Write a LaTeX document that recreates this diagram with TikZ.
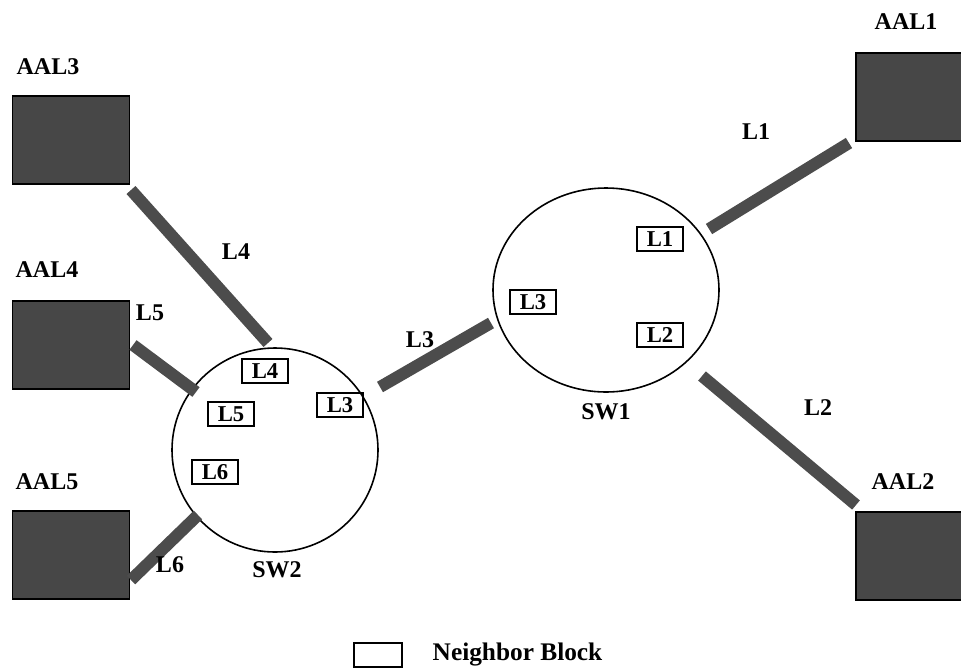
\documentclass[tikz,border=0pt]{standalone}
\usepackage{fontspec}
\setmainfont{Liberation Serif}
\usetikzlibrary{patterns}

\begin{document}
\begin{tikzpicture}[x=0.75pt, y=-0.75pt,
		aal/.style={draw=black, line width=1.2pt, fill=black!72, minimum width=88pt, minimum height=66pt, inner sep=0pt},
		link/.style={draw=black!70, line width=9pt},
		nb/.style={draw, line width=1.3pt, inner sep=0pt, minimum width=35pt, minimum height=18pt, font=\bfseries\fontsize{17}{17}\selectfont},
		lbl/.style={font=\bfseries\fontsize{18}{18}\selectfont}]
	\useasboundingbox (0,0) rectangle (961,669);
	% end systems
	\node[aal] (aal3) at (71,140) {};
	\node[aal] (aal4) at (71,345) {};
	\node[aal] (aal5) at (71,555) {};
	\node[aal, minimum width=90pt] (aal1) at (916,97) {};
	\node[aal, minimum width=90pt] (aal2) at (916,556) {};
	\node[lbl] at (48,67) {AAL3};
	\node[lbl] at (47,270) {AAL4};
	\node[lbl] at (47,482) {AAL5};
	\node[lbl] at (906,22) {AAL1};
	\node[lbl] at (903,482) {AAL2};
	% switches
	\coordinate (sw1) at (606,290);
	\coordinate (sw2) at (275,450);
	\draw[line width=1.2pt] (sw1) ellipse [x radius=113, y radius=102];
	\draw[line width=1.2pt] (sw2) ellipse [x radius=103, y radius=102];
	\node[lbl] at (606,412) {SW1};
	\node[lbl] at (277,570) {SW2};
	% link ends
	\coordinate (l1a) at (709,229);	\coordinate (l1b) at (849,143);
	\coordinate (l2a) at (702,376);	\coordinate (l2b) at (856,505);
	\coordinate (l3a) at (380,387);	\coordinate (l3b) at (491,323);
	\coordinate (l4a) at (131,190);	\coordinate (l4b) at (268,343);
	\coordinate (l5a) at (133,345);	\coordinate (l5b) at (196,392);
	\coordinate (l6a) at (131,580);	\coordinate (l6b) at (198,515);
	\foreach \l in {1,...,6} {
		\draw[link] (l\l a) -- (l\l b);
	}
	\node[lbl] at (756,132) {L1};
	\node[lbl] at (818,408) {L2};
	\node[lbl] at (420,340) {L3};
	\node[lbl] at (236,252) {L4};
	\node[lbl] at (150,313) {L5};
	\node[lbl] at (170,565) {L6};
	% neighbor blocks
	\node[nb] (nb11) at (660,239) {L1};
	\node[nb] (nb12) at (660,335) {L2};
	\node[nb] (nb13) at (533,302) {L3};
	\node[nb] (nb24) at (265,371) {L4};
	\node[nb] (nb25) at (231,414) {L5};
	\node[nb] (nb23) at (340,405) {L3};
	\node[nb] (nb26) at (215,472) {L6};
	% legend
	\node[draw, line width=1.3pt, minimum width=36pt, minimum height=18pt, inner sep=0pt] (key) at (378,655) {};
	\node[lbl, font=\bfseries\fontsize{19}{19}\selectfont, anchor=west] at (428,654) {Neighbor Block};
\end{tikzpicture}
\end{document}
